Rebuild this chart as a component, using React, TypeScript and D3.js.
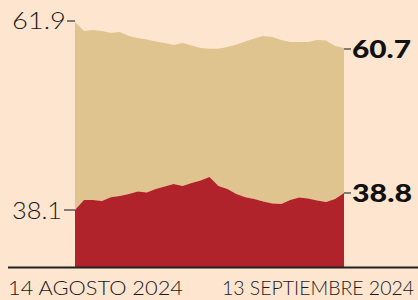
import React from "react";
import * as d3 from "d3";

const days: number[] = d3.range(0, 31);
const approval: number[] = [
  61.9, 61.49, 61.53, 61.49, 61.39, 61.44, 61.25, 61.16, 61.09, 61.0, 60.93,
  60.84, 60.93, 60.82, 60.7, 60.66, 60.66, 60.75, 60.86, 61.0, 61.14, 61.25,
  61.21, 61.07, 60.98, 60.98, 60.98, 61.07, 61.05, 60.79, 60.7,
];
const disapproval: number[] = [
  38.1, 38.51, 38.51, 38.47, 38.63, 38.68, 38.76, 38.86, 38.82, 38.96, 39.07,
  39.17, 39.09, 39.21, 39.31, 39.46, 39.09, 38.96, 38.76, 38.63, 38.55, 38.45,
  38.37, 38.35, 38.51, 38.61, 38.57, 38.49, 38.43, 38.55, 38.8,
];
const startLabel = "14 AGOSTO 2024";
const endLabel = "13 SEPTIEMBRE 2024";

const W = 418;
const H = 300;
const BG = "#fde5cf";
const TAN = "#e0c48f";
const RED = "#b1232b";
const FONT = "Lato, 'Open Sans', sans-serif";

export default function App() {
  const x = d3.scaleLinear().domain([0, 30]).range([75, 344]);
  const yTop = d3.scaleLinear().domain([60.7, 61.9]).range([48, 22]);
  const yBot = d3.scaleLinear().domain([38.1, 38.8]).range([210, 193]);
  const base = 267;

  const tanArea = d3
    .area<number>()
    .x((d) => x(d))
    .y0((d) => yBot(disapproval[d]))
    .y1((d) => yTop(approval[d]))
    .curve(d3.curveLinear);
  const redArea = d3
    .area<number>()
    .x((d) => x(d))
    .y0(base)
    .y1((d) => yBot(disapproval[d]))
    .curve(d3.curveLinear);

  const first = 0;
  const last = days.length - 1;

  return (
    <svg
      width={W}
      height={H}
      style={{ position: "absolute", left: 0, top: 0, display: "block" }}
    >
      <rect x={0} y={0} width={W} height={H} fill={BG} />
      <path d={tanArea(days) || ""} fill={TAN} />
      <path d={redArea(days) || ""} fill={RED} />
      <line x1={8} x2={W} y1={base + 0.5} y2={base + 0.5} stroke="#222" strokeWidth={2} />

      {/* left labels */}
      <line x1={67} x2={x(first)} y1={yTop(approval[first]) - 1} y2={yTop(approval[first]) - 1} stroke="#333" strokeWidth={1.2} />
      <text x={66} y={yTop(approval[first]) + 7} textAnchor="end" fontFamily={FONT} fontWeight={300} fontSize={24} fill="#1a1a1a" textLength={54} lengthAdjust="spacingAndGlyphs">
        {approval[first].toFixed(1)}
      </text>
      <line x1={64} x2={x(first)} y1={yBot(disapproval[first])} y2={yBot(disapproval[first])} stroke="#333" strokeWidth={1.2} />
      <text x={62} y={yBot(disapproval[first]) + 9} textAnchor="end" fontFamily={FONT} fontWeight={300} fontSize={24} fill="#1a1a1a" textLength={50} lengthAdjust="spacingAndGlyphs">
        {disapproval[first].toFixed(1)}
      </text>

      {/* right labels */}
      <line x1={x(last)} x2={351} y1={yTop(approval[last]) + 1} y2={yTop(approval[last]) + 1} stroke="#333" strokeWidth={1.2} />
      <text x={352} y={yTop(approval[last]) + 10} fontFamily={FONT} fontWeight={900} fontSize={25} fill="#111" textLength={59} lengthAdjust="spacingAndGlyphs">
        {approval[last].toFixed(1)}
      </text>
      <line x1={x(last)} x2={351} y1={yBot(disapproval[last])} y2={yBot(disapproval[last])} stroke="#333" strokeWidth={1.2} />
      <text x={352} y={yBot(disapproval[last]) + 9} fontFamily={FONT} fontWeight={900} fontSize={25} fill="#111" textLength={60} lengthAdjust="spacingAndGlyphs">
        {disapproval[last].toFixed(1)}
      </text>

      {/* date labels */}
      <text x={8} y={295} fontFamily={FONT} fontWeight={300} fontSize={20} fill="#1a1a1a" textLength={175} lengthAdjust="spacingAndGlyphs">
        {startLabel}
      </text>
      <text x={222} y={295} fontFamily={FONT} fontWeight={300} fontSize={20} fill="#1a1a1a" textLength={192} lengthAdjust="spacingAndGlyphs">
        {endLabel}
      </text>
    </svg>
  );
}
